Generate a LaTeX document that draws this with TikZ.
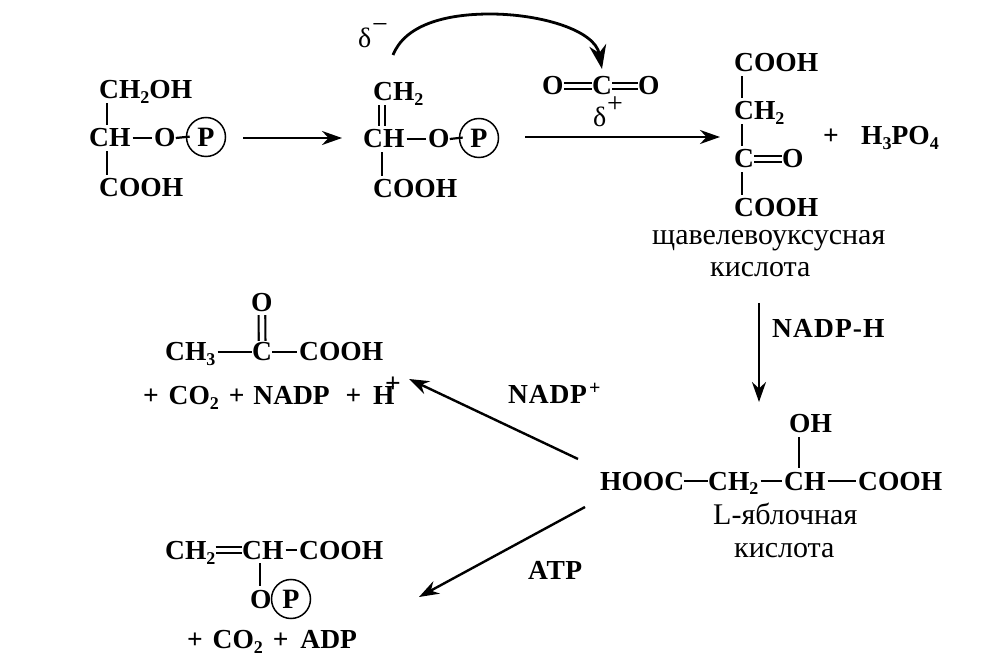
\documentclass[tikz,border=0pt]{standalone}
\usepackage{fontspec}
\setmainfont{Liberation Serif}
\usetikzlibrary{arrows.meta}
\newcommand{\sbs}[1]{\raisebox{-5pt}{\fontsize{18}{18}\selectfont #1}}
\tikzset{
  x=1pt,y=-1pt,
  chem/.style={inner sep=0pt,anchor=base west,text height=18pt,text depth=0pt,
    font=\fontsize{27.5}{27.5}\selectfont\bfseries},
  rus/.style={inner sep=0pt,anchor=base west,font=\fontsize{30}{30}\selectfont},
  delta/.style={inner sep=0pt,anchor=base west,font=\fontsize{28}{28}\selectfont},
  phos/.style={circle,draw,line width=1.5pt,minimum size=39pt,inner sep=0pt,
    font=\fontsize{28}{28}\selectfont\bfseries},
  bond/.style={line width=2.2pt,shorten >=2pt,shorten <=2pt},
  vbond/.style={line width=2.2pt,shorten >=4pt,shorten <=4pt},
  dbl/.style={bond,double,double distance=3.4pt,line width=2.1pt},
  vdbl/.style={vbond,double,double distance=4.6pt,line width=2.1pt},
  react/.style={line width=2.4pt,-{Stealth[length=20pt,width=14pt]}},
}
\begin{document}
\begin{tikzpicture}
\useasboundingbox (0,0) rectangle (989,660);
% structure 1
\node[chem] (a1) at (99,99) {CH\sbs{2}OH};
\node[chem] (a2) at (89,147) {CH};
\node[chem] (a3) at (154,147) {O};
\node[phos] (a4) at (206,137) {P};
\node[chem] (a5) at (99,197) {COOH};
\draw[vbond] ([xshift=8pt]a1.south west) -- ([xshift=18pt]a2.north west);
\draw[vbond] ([xshift=18pt]a2.south west) -- ([xshift=8pt]a5.north west);
\draw[bond] (a2.east) -- (a3.west);
\draw[bond,shorten >=-4pt,shorten <=0pt] (a3.east) -- (a4.west);
% arrow 1
\coordinate (r1s) at (243,138);
\coordinate (r1e) at (342,138);
\draw[react] (r1s) -- (r1e);
% structure 2
\node[chem] (b1) at (373,101) {CH\sbs{2}};
\node[chem] (b2) at (363,148) {CH};
\node[chem] (b3) at (428,148) {O};
\node[phos] (b4) at (479,138) {P};
\node[chem] (b5) at (373,198) {COOH};
\draw[vdbl] ([xshift=9pt]b1.south west) -- ([xshift=19pt]b2.north west);
\draw[vbond] ([xshift=19pt]b2.south west) -- ([xshift=9pt]b5.north west);
\draw[bond] (b2.east) -- (b3.west);
\draw[bond,shorten >=-4pt,shorten <=0pt] (b3.east) -- (b4.west);
% delta minus and curved arrow
\node[delta] (d1) at (358,48) {δ};
\node[delta] (d2) at (372,34) {−};
\coordinate (cs) at (393,55);
\coordinate (ce) at (602,69);
\draw[line width=2.8pt,-{Stealth[length=24pt,width=17pt]}] (cs) .. controls (405,25) and (445,14) .. (490,14) .. controls (540,14) and (595,30) .. (ce);
% CO2
\node[chem] (c1) at (542,95) {O};
\node[chem] (c2) at (592,95) {C};
\node[chem] (c3) at (638,95) {O};
\draw[dbl,shorten >=0pt,shorten <=0pt] (c1.east) -- (c2.west);
\draw[dbl,shorten >=0pt,shorten <=0pt] (c2.east) -- (c3.west);
\node[delta] (d3) at (593,127) {δ};
\node[delta] (d4) at (607,113) {+};
% arrow 2
\coordinate (r2s) at (525,137);
\coordinate (r2e) at (720,137);
\draw[react] (r2s) -- (r2e);
% oxaloacetic acid
\node[chem] (e1) at (734,72) {COOH};
\node[chem] (e2) at (734,120) {CH\sbs{2}};
\node[chem] (e3) at (734,168) {C};
\node[chem] (e4) at (782,168) {O};
\node[chem] (e5) at (734,217) {COOH};
\draw[vbond] ([xshift=8pt]e1.south west) -- ([xshift=8pt]e2.north west);
\draw[vbond] ([xshift=8pt]e2.south west) -- ([xshift=8pt]e3.north west);
\draw[vbond] ([xshift=8pt]e3.south west) -- ([xshift=8pt]e5.north west);
\draw[dbl,shorten >=0pt,shorten <=0pt] (e3.east) -- (e4.west);
\node[chem] (e6) at (823,145) {+};
\node[chem] (e7) at (861,145) {H\sbs{3}PO\sbs{4}};
\node[rus] (t1) at (652,245) {щавелевоуксусная};
\node[rus] (t2) at (710,277) {кислота};
% NADP-H arrow
\coordinate (r3s) at (759,303);
\coordinate (r3e) at (759,402);
\draw[react] (r3s) -- (r3e);
\node[chem] (l1) at (772,338) {\addfontfeature{LetterSpace=4}NADP-H};
% malate
\node[chem] (m1) at (789,433) {OH};
\node[chem] (m2) at (600,490) {HOOC};
\node[chem] (m3) at (708,490) {CH\sbs{2}};
\node[chem] (m4) at (784,490) {CH};
\node[chem] (m5) at (858,490) {COOH};
\draw[vbond] ([xshift=10pt]m1.south west) -- ([xshift=15pt]m4.north west);
\draw[bond,shorten >=0pt,shorten <=0pt,yshift=3pt] (m2.east) -- (m3.west);
\draw[bond,yshift=3pt] (m3.east) -- (m4.west);
\draw[bond,yshift=3pt] (m4.east) -- (m5.west);
\node[rus] (t3) at (713,524) {L-яблочная};
\node[rus] (t4) at (734,557) {кислота};
% pyruvate
\node[chem] (p1) at (251,312) {O};
\node[chem] (p2) at (165,361) {CH\sbs{3}};
\node[chem] (p3) at (252,361) {C};
\node[chem] (p4) at (299,361) {COOH};
\draw[vdbl,shorten >=2pt,shorten <=3pt] (p1.south) -- (p3.north);
\draw[bond,shorten >=0pt] (p2.east) -- (p3.west);
\draw[bond,shorten <=0pt] (p3.east) -- (p4.west);
\node[chem] (p5) at (143,405) {+\hspace{3pt} CO\sbs{2}\hspace{3pt} +\hspace{2pt} NADP\hspace{9pt} +\hspace{5pt} H};
\node[chem] (p6) at (385,393) {+};
% arrows from malate
\coordinate (r4s) at (578,459);
\coordinate (r4e) at (409,379);
\draw[react] (r4s) -- (r4e);
\node[chem] (l2) at (508,404) {\addfontfeature{LetterSpace=3}NADP};
\node[chem] (l3) at (589,395) {\fontsize{20}{20}\selectfont +};
\coordinate (r5s) at (585,507);
\coordinate (r5e) at (419,597);
\draw[react] (r5s) -- (r5e);
\node[chem] (l4) at (528,579) {\addfontfeature{LetterSpace=2}ATP};
% phosphoenolpyruvate
\node[chem] (q1) at (165,559) {CH\sbs{2}};
\node[chem] (q2) at (242,559) {CH};
\node[chem] (q3) at (299,559) {COOH};
\draw[dbl,shorten >=0pt,shorten <=0pt] (q1.east) -- (q2.west);
\draw[bond] (q2.east) -- (q3.west);
\node[chem] (q4) at (250,608) {O};
\node[phos] (q5) at (291,599) {P};
\draw[vbond] ([xshift=18pt]q2.south west) -- ([xshift=10pt]q4.north west);
\draw[bond,shorten >=0pt,shorten <=0pt] (q4.east) -- (q5.west);
\node[chem] (q6) at (187,648) {+\hspace{3pt} CO\sbs{2}\hspace{3pt} +\hspace{5pt} ADP};
\end{tikzpicture}
\end{document}
